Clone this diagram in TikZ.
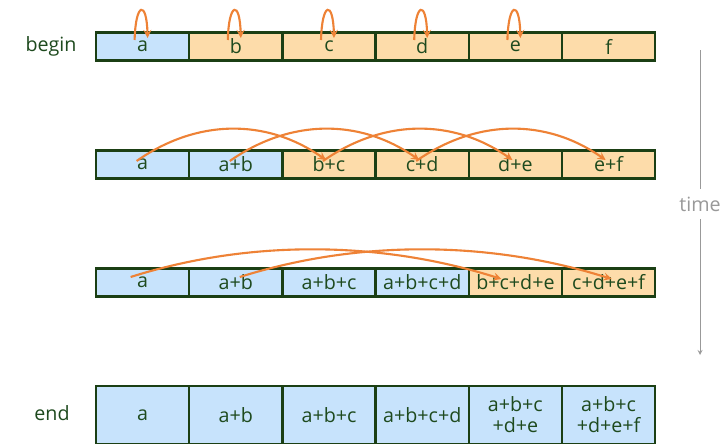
\documentclass[tikz,border=0pt]{standalone}
\usepackage{fontspec}
\setmainfont{Open Sans}
\definecolor{cellblue}{HTML}{C7E3FC}
\definecolor{cellorange}{HTML}{FDDCAA}
\definecolor{cellline}{HTML}{1B3F14}
\definecolor{celltext}{HTML}{1E4A1E}
\definecolor{hopcolor}{HTML}{EE8236}
\definecolor{timegray}{HTML}{999999}
\tikzset{
  cell/.style={draw=cellline, line width=1.6pt, minimum width=2.33cm, minimum height=0.7cm,
    inner sep=0pt, text=celltext, font=\fontsize{14pt}{15pt}\selectfont},
  sumcell/.style={cell, fill=cellblue},
  pendcell/.style={cell, fill=cellorange},
  tallcell/.style={minimum height=1.45cm, align=center},
  rowlabel/.style={text=celltext, font=\fontsize{14pt}{15pt}\selectfont},
  hop/.style={draw=hopcolor, line width=1.5pt, -stealth},
  timeline/.style={draw=timegray, line width=0.6pt},
}

\begin{document}
\begin{tikzpicture}[x=0.025cm, y=0.025cm]
			%%%%% START %%%%%
			
			\fill[white] (0, 0) rectangle (720, 443);
			\useasboundingbox (0, 0) rectangle (720, 443);
			
			\node[rowlabel] (lbegin) at (51, 397) {begin};
			\node[rowlabel] (lend) at (52, 30) {end};
			
			% begin
			\node[sumcell] (r1c1) at (142.6, 396.5) {a};
			\node[pendcell] (r1c2) at (235.8, 396.5) {b};
			\node[pendcell] (r1c3) at (329.0, 396.5) {c};
			\node[pendcell] (r1c4) at (422.2, 396.5) {d};
			\node[pendcell] (r1c5) at (515.4, 396.5) {e};
			\node[pendcell] (r1c6) at (608.6, 396.5) {f};
			
			% step 1
			\node[sumcell] (r2c1) at (142.6, 278.5) {a};
			\node[sumcell] (r2c2) at (235.8, 278.5) {a+b};
			\node[pendcell] (r2c3) at (329.0, 278.5) {b+c};
			\node[pendcell] (r2c4) at (422.2, 278.5) {c+d};
			\node[pendcell] (r2c5) at (515.4, 278.5) {d+e};
			\node[pendcell] (r2c6) at (608.6, 278.5) {e+f};
			
			% step 2
			\node[sumcell] (r3c1) at (142.6, 160.5) {a};
			\node[sumcell] (r3c2) at (235.8, 160.5) {a+b};
			\node[sumcell] (r3c3) at (329.0, 160.5) {a+b+c};
			\node[sumcell] (r3c4) at (422.2, 160.5) {a+b+c+d};
			\node[pendcell] (r3c5) at (515.4, 160.5) {b+c+d+e};
			\node[pendcell] (r3c6) at (608.6, 160.5) {c+d+e+f};
			
			% end
			\node[sumcell, tallcell] (r4c1) at (142.6, 28) {a};
			\node[sumcell, tallcell] (r4c2) at (235.8, 28) {a+b};
			\node[sumcell, tallcell] (r4c3) at (329.0, 28) {a+b+c};
			\node[sumcell, tallcell] (r4c4) at (422.2, 28) {a+b+c+d};
			\node[sumcell, tallcell] (r4c5) at (515.4, 28) {a+b+c\\+d+e};
			\node[sumcell, tallcell] (r4c6) at (608.6, 28) {a+b+c\\+d+e+f};
			
			\draw[hop] ([shift={(-8,6.5)}]r1c1.center) .. controls +(1,38) and +(-1,38) .. ([shift={(5,8.5)}]r1c1.center);
			\draw[hop] ([shift={(-8,6.5)}]r1c2.center) .. controls +(1,38) and +(-1,38) .. ([shift={(5,8.5)}]r1c2.center);
			\draw[hop] ([shift={(-8,6.5)}]r1c3.center) .. controls +(1,38) and +(-1,38) .. ([shift={(5,8.5)}]r1c3.center);
			\draw[hop] ([shift={(-8,6.5)}]r1c4.center) .. controls +(1,38) and +(-1,38) .. ([shift={(5,8.5)}]r1c4.center);
			\draw[hop] ([shift={(-8,6.5)}]r1c5.center) .. controls +(1,38) and +(-1,38) .. ([shift={(5,8.5)}]r1c5.center);
			
			\draw[hop] ([shift={(-6,3.5)}]r2c1.center) .. controls +(60,42) and +(-60,42) .. ([shift={(-3,4.5)}]r2c3.center);
			\draw[hop] ([shift={(-6,3.5)}]r2c2.center) .. controls +(60,42) and +(-60,42) .. ([shift={(-3,4.5)}]r2c4.center);
			\draw[hop] ([shift={(-6,3.5)}]r2c3.center) .. controls +(60,42) and +(-60,42) .. ([shift={(-3,4.5)}]r2c5.center);
			\draw[hop] ([shift={(-6,3.5)}]r2c4.center) .. controls +(60,42) and +(-60,42) .. ([shift={(-3,4.5)}]r2c6.center);
			
			\draw[hop] ([shift={(-12,5.5)}]r3c1.center) .. controls +(120,38) and +(-120,38) .. ([shift={(-14,3.5)}]r3c5.center);
			\draw[hop] ([shift={(4,5.5)}]r3c2.center) .. controls +(120,38) and +(-120,38) .. ([shift={(3,3.5)}]r3c6.center);
			
			% time
			\coordinate (ttop) at (700, 393);
			\node[rowlabel, text=timegray, minimum height=0.75cm, inner sep=0pt] (time) at (700, 239) {time};
			\coordinate (tbot) at (700, 88);
			\draw[timeline] (ttop) -- (time.north);
			\draw[timeline, -stealth] (time.south) -- (tbot);
			
			%%%%% END %%%%%
		\end{tikzpicture}
\end{document}
